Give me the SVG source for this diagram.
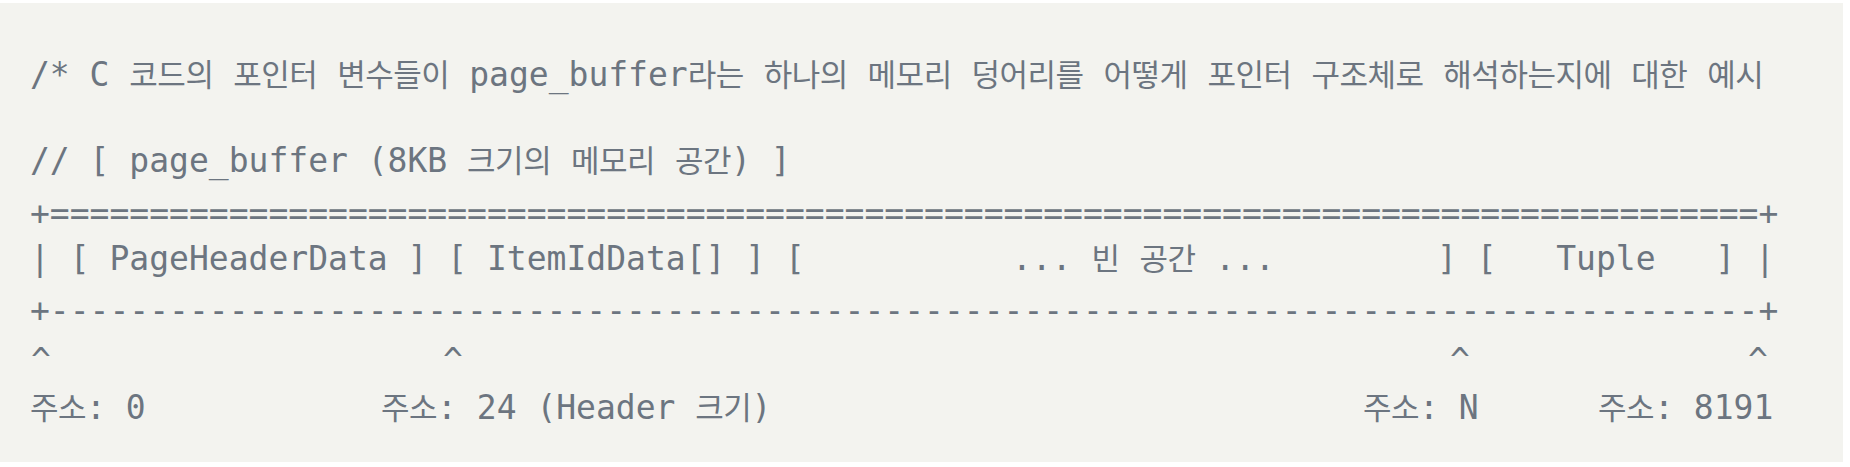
<svg xmlns="http://www.w3.org/2000/svg" width="1850" height="467" viewBox="0 0 1850 467">
<style>
  .t { font-family: "DejaVu Sans Mono", "Liberation Mono", "Noto Sans CJK KR", monospace; font-size: 33px; fill: #6c7580; white-space: pre; }
  .k { font-family: "Noto Sans CJK KR", sans-serif; font-size: 31px; letter-spacing: -0.5px; }
  .c { text-anchor: middle; }
</style>
<rect x="0" y="0" width="1850" height="467" fill="#ffffff"/>
<rect x="0" y="3" width="1843" height="459" fill="#f3f3ef"/>
<g id="code">
  <text class="t" x="30" y="86" xml:space="preserve">/* C <tspan class="k">코드의</tspan> <tspan class="k">포인터</tspan> <tspan class="k">변수들이</tspan> page_buffer<tspan class="k">라는</tspan> <tspan class="k">하나의</tspan> <tspan class="k">메모리</tspan> <tspan class="k">덩어리를</tspan> <tspan class="k">어떻게</tspan> <tspan class="k">포인터</tspan> <tspan class="k">구조체로</tspan> <tspan class="k">해석하는지에</tspan> <tspan class="k">대한</tspan> <tspan class="k">예시</tspan></text>
  <text class="t" x="30" y="172" xml:space="preserve">// [ page_buffer (8KB <tspan class="k">크기의</tspan> <tspan class="k">메모리</tspan> <tspan class="k">공간</tspan>) ]</text>
  <text class="t" x="30" y="225" xml:space="preserve">+======================================================================================+</text>
  <text class="t" x="30" y="270" xml:space="preserve">| [ PageHeaderData ] [ ItemIdData[] ] [</text>
  <text class="t" x="1012" y="270" xml:space="preserve">... <tspan class="k">빈</tspan> <tspan class="k">공간</tspan> ...</text>
  <text class="t" x="1437" y="270" xml:space="preserve">] [   Tuple   ] |</text>
  <text class="t" x="30" y="322" xml:space="preserve">+--------------------------------------------------------------------------------------+</text>
  <text class="t c" x="41" y="372">^</text>
  <text class="t c" x="453" y="372">^</text>
  <text class="t c" x="1460" y="372">^</text>
  <text class="t c" x="1758" y="372">^</text>
  <text class="t" x="30" y="419" xml:space="preserve"><tspan class="k">주소</tspan>: 0</text>
  <text class="t" x="381" y="419" xml:space="preserve"><tspan class="k">주소</tspan>: 24 (Header <tspan class="k">크기</tspan>)</text>
  <text class="t" x="1363" y="419" xml:space="preserve"><tspan class="k">주소</tspan>: N</text>
  <text class="t" x="1598" y="419" xml:space="preserve"><tspan class="k">주소</tspan>: 8191</text>
</g>
</svg>
